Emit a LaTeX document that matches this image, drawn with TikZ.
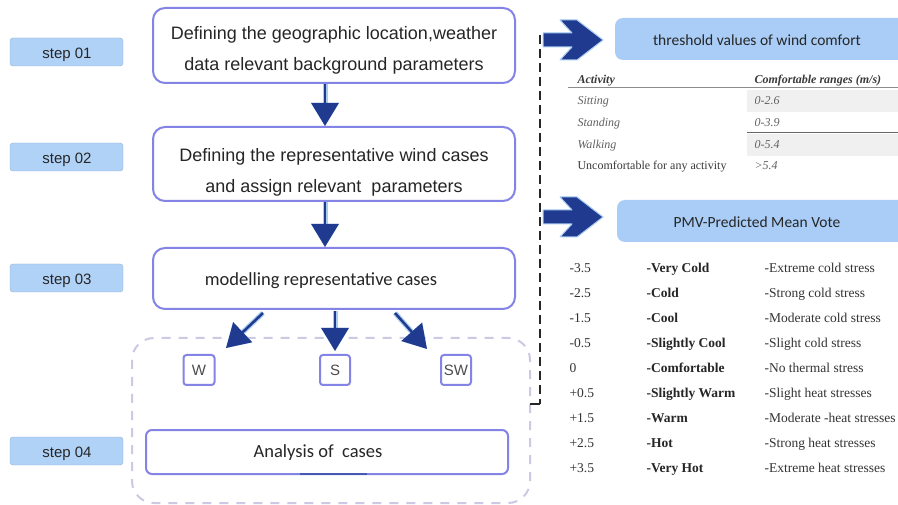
\documentclass[tikz,border=0pt]{standalone}
\usepackage{fontspec}
\setmainfont{Liberation Sans}
\newfontfamily\calib{Carlito}
\newfontfamily\tms{Liberation Serif}
\usetikzlibrary{arrows.meta}
\definecolor{boxline}{HTML}{8484E6}
\definecolor{stepfill}{HTML}{B0D2F7}
\definecolor{headfill}{HTML}{A9CDF6}
\definecolor{navy}{HTML}{1F3A8F}
\definecolor{glow}{HTML}{A8CCF0}
\definecolor{dashc}{HTML}{CACAE4}
\definecolor{tabtext}{HTML}{3A3A3A}
\begin{document}
\begin{tikzpicture}[x=1pt,y=-1pt,
  stepbox/.style={fill=stepfill, draw=stepfill!85!black, line width=0.4pt, rounded corners=3pt,
    minimum width=113pt, minimum height=28pt, inner sep=0pt},
  steptxt/.style={inner sep=0pt, font=\fontsize{15}{17}\selectfont, text=black!85},
  flowbox/.style={draw=boxline, line width=2pt, rounded corners=12pt, fill=white, inner sep=0pt},
  flowtxt/.style={inner sep=0pt, align=center, font=\fontsize{18}{31}\selectfont, text=black!85},
  calibtxt/.style={inner sep=0pt, font=\calib\fontsize{18.5}{22}\selectfont, text=black!85},
  casebox/.style={draw=boxline, line width=2pt, rounded corners=3pt, inner sep=0pt,
    minimum width=31pt, minimum height=30pt, font=\fontsize{15}{17}\selectfont, text=black!70},
  flow/.style={draw=navy, line width=2.5pt, -{Triangle[width=27pt,length=23pt]},
    preaction={draw=glow, line width=5pt, -{Triangle[width=27pt,length=23pt]}}},
  headtxt/.style={font=\calib\fontsize{15.5}{18}\selectfont, text=black!85},
  tabhd/.style={anchor=base west, font=\tms\bfseries\itshape\fontsize{12}{14}\selectfont, text=tabtext},
  tabit/.style={anchor=base west, font=\tms\itshape\fontsize{12}{14}\selectfont, text=tabtext!80},
  tabrm/.style={anchor=base west, font=\tms\fontsize{12}{14}\selectfont, text=tabtext},
  pmv/.style={anchor=base west, font=\tms\fontsize{13.5}{15}\selectfont, text=black!80},
  pmvb/.style={anchor=base west, font=\tms\bfseries\fontsize{13.5}{15}\selectfont, text=black!85},
  blockarrow/.style={fill=navy, draw=glow, line width=1pt, line join=round}
]
\useasboundingbox (0,0) rectangle (898,505);
\fill[white] (0,0) rectangle (898,505);

% step labels
\node[stepbox] (s1) at (66.5,52) {};
\node[steptxt] (s1t) at (67,55) {step 01};
\node[stepbox] (s2) at (66.5,157) {};
\node[steptxt] (s2t) at (67,160) {step 02};
\node[stepbox] (s3) at (66.5,278) {};
\node[steptxt] (s3t) at (67,281) {step 03};
\node[stepbox] (s4) at (66.5,451) {};
\node[steptxt] (s4t) at (67,454) {step 04};

% dashed group
\draw[dashc, line width=2pt, dash pattern=on 9pt off 8pt, rounded corners=22pt] (132,338) rectangle (530,503);

% flow boxes
\node[flowbox, minimum width=362pt, minimum height=75pt] (b1) at (334,45.5) {};
\node[flowtxt] (b1t) at (334,50) {Defining the geographic location,weather\\data relevant background parameters};
\node[flowbox, minimum width=362pt, minimum height=74pt] (b2) at (334,164) {};
\node[flowtxt] (b2t) at (334,172) {Defining the representative wind cases\\and assign relevant\ \ parameters};
\node[flowbox, minimum width=362pt, minimum height=61pt] (b3) at (334,278.5) {};
\node[calibtxt] (b3t) at (321,281) {modelling representative cases};
\node[flowbox, minimum width=362pt, minimum height=44pt, rounded corners=6pt] (b4) at (327,452) {};
\node[calibtxt] (b4t) at (318,453) {Analysis of\ \ cases};
\draw[navy!60!boxline, line width=2.5pt] (300,474) -- (367,474);

% case boxes
\node[casebox] (w) at (199,370) {W};
\node[casebox, minimum width=30pt] (s) at (335,370) {S};
\node[casebox, minimum width=30pt] (sw) at (456,370) {SW};

% flow arrows
\draw[flow] (b1.south -| 325,0) -- (b2.north -| 325,0);
\draw[flow] (b2.south -| 325,0) -- (b3.north -| 325,0);
\coordinate (la) at (263,313);
\coordinate (lb) at (226,348);
\coordinate (ma) at (335,311);
\coordinate (mb) at (335,351);
\coordinate (ra) at (395,313);
\coordinate (rb) at (427,349);
\draw[flow] (la) -- (lb);
\draw[flow] (ma) -- (mb);
\draw[flow] (ra) -- (rb);

% bracket
\coordinate (bt) at (540,35);
\coordinate (bb) at (540,404);
\coordinate (bl) at (530,404);
\draw[black!85, line width=2.2pt, dash pattern=on 9pt off 5pt] (bt) -- (bb);
\draw[black!85, line width=2pt] (bb) -- (bl);

% block arrows
\draw[blockarrow] (543,33) -- (572,33) -- (560,20) -- (577,20) -- (603,40) -- (577,60) -- (560,60) -- (572,47) -- (543,47) -- cycle;
\draw[blockarrow] (543,210) -- (572,210) -- (560,197) -- (577,197) -- (603,217) -- (577,237) -- (560,237) -- (572,224) -- (543,224) -- cycle;

% headers
\fill[headfill, rounded corners=8pt] (615,18) rectangle (910,60);
\node[headtxt] (h1) at (757,40) {threshold values of wind comfort};
\fill[headfill, rounded corners=8pt] (617,200) rectangle (910,242);
\node[headtxt] (h2) at (757,222) {PMV-Predicted Mean Vote};

% wind comfort table
\fill[black!6] (747,90) rectangle (898,112);
\fill[black!6] (747,134) rectangle (898,156);
\draw[black!45, line width=1pt] (568,88) -- (898,88);
\draw[black!60, line width=1pt] (747,133) -- (898,133);
\node[tabhd] (t0a) at (574,84) {Activity};
\node[tabhd] (t0b) at (751,84) {Comfortable ranges (m/s)};
\node[tabit] (t1a) at (574,105) {Sitting};
\node[tabit] (t1b) at (751,105) {0-2.6};
\node[tabit] (t2a) at (574,127) {Standing};
\node[tabit] (t2b) at (751,127) {0-3.9};
\node[tabit] (t3a) at (574,149) {Walking};
\node[tabit] (t3b) at (751,149) {0-5.4};
\node[tabrm] (t4a) at (574,170) {Uncomfortable for any activity};
\node[tabit] (t4b) at (751,170) {>5.4};

% PMV list
\foreach \v/\c/\d [count=\i] in {-3.5/-Very Cold/-Extreme cold stress,
  -2.5/-Cold/-Strong cold stress,
  -1.5/-Cool/-Moderate cold stress,
  -0.5/-Slightly Cool/-Slight cold stress,
  0/-Comfortable/-No thermal stress,
  +0.5/-Slightly Warm/-Slight heat stresses,
  +1.5/-Warm/-Moderate -heat stresses,
  +2.5/-Hot/-Strong heat stresses,
  +3.5/-Very Hot/-Extreme heat stresses}{
  \pgfmathsetmacro\yy{273+(\i-1)*24.9}
  \node[pmv] (pv\i) at (566,\yy) {\v};
  \node[pmvb] (pc\i) at (643,\yy) {\c};
  \node[pmv] (pd\i) at (761,\yy) {\d};
}
\end{tikzpicture}
\end{document}
